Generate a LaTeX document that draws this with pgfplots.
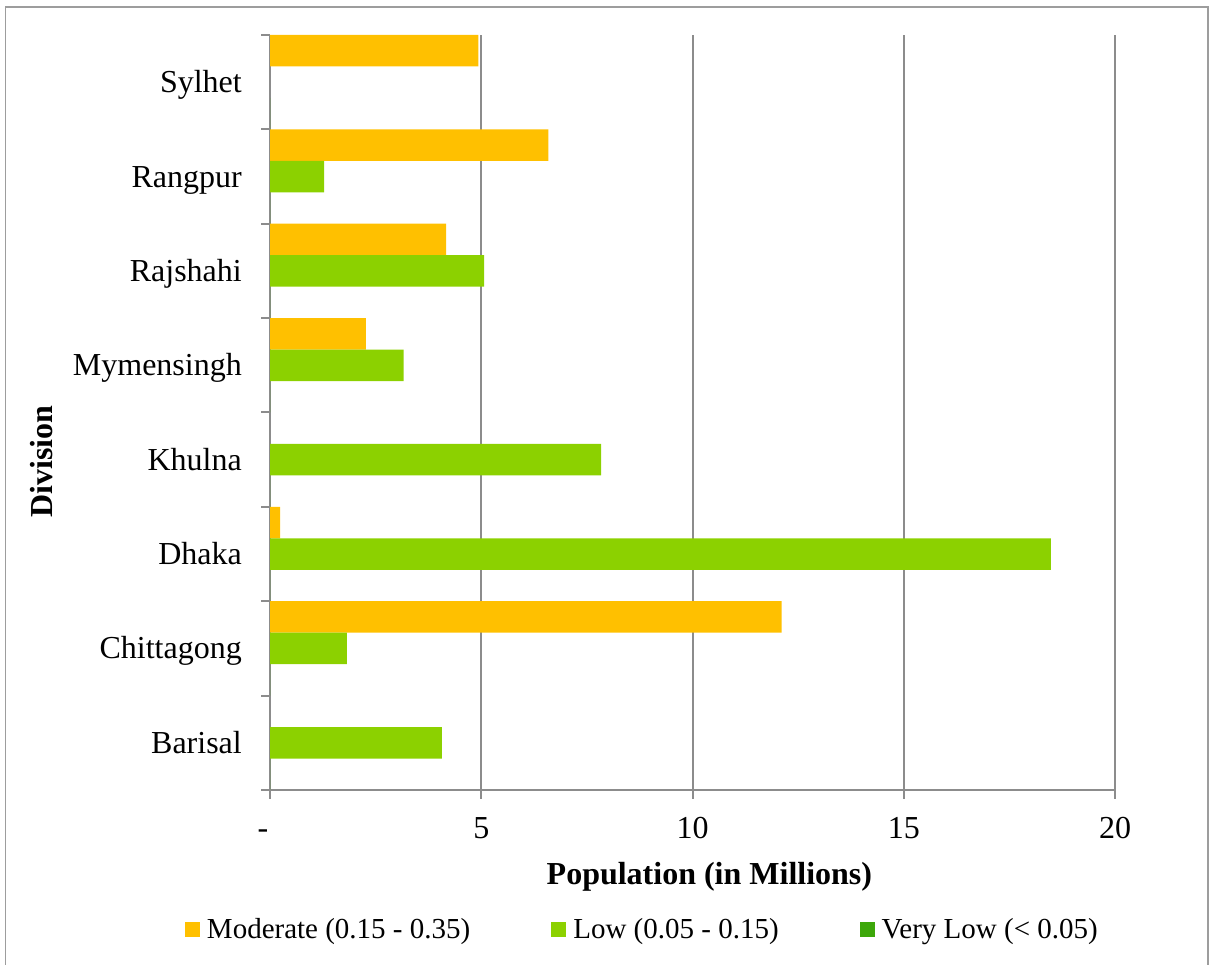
\documentclass[border=0pt]{standalone}
\usepackage{fontspec}
\setmainfont{Liberation Serif}
\usepackage{pgfplots}
\pgfplotsset{compat=1.18}
\definecolor{cmod}{HTML}{FFC000}
\definecolor{clow}{HTML}{8CD100}
\definecolor{cvl}{HTML}{3DA70A}
\definecolor{gline}{HTML}{8C8C8C}
\begin{document}
\begin{tikzpicture}[x=1pt,y=1pt]
\useasboundingbox (0,0) rectangle (1210,965);
\draw[gline!85, line width=1.6pt] (5.5,-5) -- (5.5,958) -- (1208,958) -- (1208,-5);
\begin{axis}[
  at={(270pt,175pt)}, anchor=south west,
  scale only axis, width=845pt, height=755pt,
  xmin=0, xmax=20, ymin=-0.5, ymax=7.5,
  xbar, bar width=0.3333,
  axis lines=left,
  axis line style={gline, line width=2pt, -},
  every outer x axis line/.append style={-},
  every outer y axis line/.append style={-},
  xtick={0,5,10,15,20},
  xticklabels={-\kern14pt,5,10,15,20},
  ytick={-0.5,0.5,...,7.5},
  yticklabels={},
  extra y ticks={0,1,2,3,4,5,6,7},
  extra y tick labels={Barisal,Chittagong,Dhaka,Khulna,Mymensingh,Rajshahi,Rangpur,Sylhet},
  extra y tick style={major tick length=0pt},
  tick align=outside, major tick length=9pt,
  tick style={gline, line width=2pt},
  xmajorgrids, grid style={gline, line width=2pt},
  ticklabel style={font=\fontsize{32}{38}\selectfont},
  xticklabel style={anchor=base, inner sep=0pt, yshift=-40pt},
  yticklabel style={anchor=base east, inner sep=0pt, xshift=-28pt, yshift=-10.5pt},
  xlabel={Population (in Millions)},
  xlabel style={at={(axis description cs:0.520,-0.1253)}, anchor=base, inner sep=0pt, font=\fontsize{32}{38}\selectfont\bfseries},
  ylabel={Division},
  ylabel style={at={(axis description cs:-0.2568,0.4351)}, anchor=base, inner sep=0pt, font=\fontsize{32}{38}\selectfont\bfseries},
  legend columns=3,
  legend style={at={(axis description cs:-0.1006,-0.1841)}, anchor=west, draw=none, fill=none,
    inner sep=0pt, outer sep=0pt,
    font=\fontsize{29}{34}\selectfont,
    nodes={inner sep=0pt},
    /tikz/every even column/.append style={column sep=81pt},
    /tikz/every odd column/.append style={column sep=7pt}},
  legend image code/.code={\path[#1,draw=none] (0pt,-8.2pt) rectangle (15pt,6.8pt);},
]
\addplot[fill=cmod, draw=none, bar shift=0.3333] coordinates {(12.11,1) (0.24,2) (2.27,4) (4.17,5) (6.59,6) (4.93,7)};
\addplot[fill=clow, draw=none, bar shift=0] coordinates {(4.07,0) (1.82,1) (18.48,2) (7.84,3) (3.16,4) (5.07,5) (1.28,6)};
\addplot[fill=cvl, draw=none, bar shift=-0.3333] coordinates {(0,0) (0,1) (0,2) (0,3) (0,4) (0,5) (0,6) (0,7)};
\legend{Moderate (0.15 - 0.35),Low (0.05 - 0.15),Very Low (< 0.05)}
\end{axis}
\end{tikzpicture}
\end{document}
